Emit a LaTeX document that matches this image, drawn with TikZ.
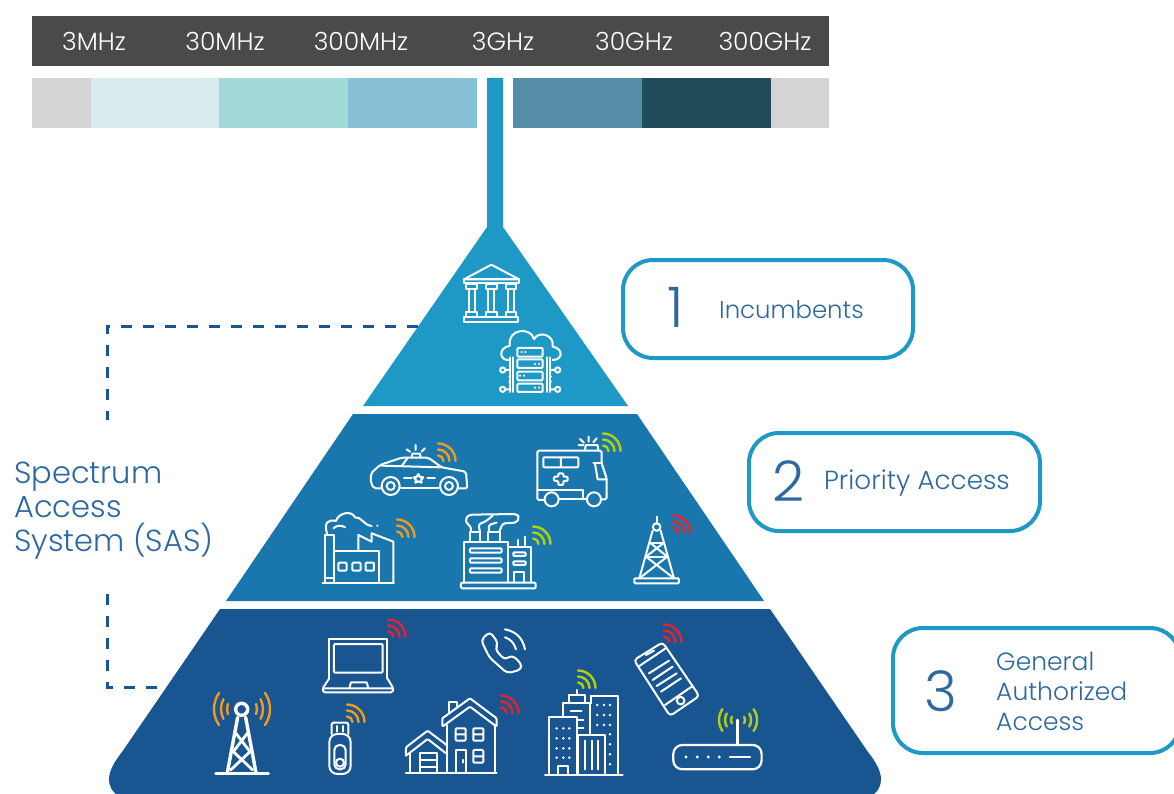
\documentclass[tikz,border=0pt]{standalone}
\usepackage{fontspec}
\setmainfont{Poppins Light}
\definecolor{tierA}{HTML}{1E98C4}
\definecolor{tierB}{HTML}{1A77AE}
\definecolor{tierC}{HTML}{185591}
\definecolor{hdr}{HTML}{4A4A4A}
\definecolor{txtb}{HTML}{2E689F}
\definecolor{orng}{HTML}{F09A1E}
\definecolor{lime}{HTML}{B5CF10}
\definecolor{redw}{HTML}{E6222A}
\tikzset{
  hlabel/.style={text=white,font=\fontsize{25}{25}\selectfont,anchor=center,inner sep=0},
  labelbox/.style={draw=tierA,line width=4pt,fill=white,rounded corners=30pt},
  lblnum/.style={text=txtb,font=\fontsize{56}{56}\selectfont,anchor=center,inner sep=0},
  lbltxt/.style={text=txtb,font=\fontsize{25}{30}\selectfont,anchor=west,inner sep=0,align=left},
  ic/.style={draw=white,line width=2pt,line join=round,line cap=round},
  zA/.style={shift={(350,220)},x=.3333pt,y=-.3333pt},
  zB/.style={shift={(300,420)},x=.3333pt,y=-.3333pt},
  zC/.style={shift={(190,610)},x=.3333pt,y=-.3333pt},
  zD/.style={shift={(470,610)},x=.3333pt,y=-.3333pt},
  wf/.style={line width=2.4pt,line cap=round},
  sasline/.style={draw=tierC,line width=3pt,dash pattern=on 11pt off 11pt}
}
\newcommand{\wifi}[3]{%
  \draw[wf,#3] (#1,#2) ++(5.5pt,0) arc[start angle=0,end angle=90,radius=5.5pt];
  \draw[wf,#3] (#1,#2) ++(11.5pt,0) arc[start angle=0,end angle=90,radius=11.5pt];
  \draw[wf,#3] (#1,#2) ++(17.5pt,0) arc[start angle=0,end angle=90,radius=17.5pt];
}
\newcommand{\sidewaves}[4]{%
  \foreach \r/\a in {#4}{
    \draw[wf,#3] (#1,#2) ++(-\a:\r pt) arc[start angle=-\a,end angle=\a,radius=\r pt];
    \draw[wf,#3] (#1,#2) ++(180-\a:\r pt) arc[start angle=180-\a,end angle=180+\a,radius=\r pt];
  }
}
\begin{document}
\begin{tikzpicture}[x=1pt,y=-1pt]
\useasboundingbox (0,0) rectangle (1174,794);
% header
\fill[hdr] (32,16) rectangle (829,66);
\foreach \n/\x/\t in {h1/94/3MHz,h2/225/30MHz,h3/361/300MHz,h4/503/3GHz,h5/634/30GHz,h6/765/300GHz}
  \node[hlabel] (\n) at (\x,41) {\t};
% band
\fill[black!17] (32,78) rectangle (91,128);
\fill[black!17] (771,78) rectangle (829,128);
\fill[fill={rgb,255:red,216;green,236;blue,240}] (91,78) rectangle (219,128);
\fill[fill={rgb,255:red,162;green,218;blue,215}] (219,78) rectangle (348,128);
\fill[fill={rgb,255:red,135;green,191;blue,214}] (348,78) rectangle (477,128);
\fill[fill={rgb,255:red,84;green,141;blue,165}] (513,78) rectangle (642,128);
\fill[fill={rgb,255:red,33;green,76;blue,90}] (642,78) rectangle (771,128);
% pyramid
\fill[tierA] (487,78) -- (503,78) -- (503,227) -- (628,406) -- (363,406) -- (487,227) -- cycle;
\fill[tierB] (353,414) -- (637,414) -- (764,601) -- (226,601) -- cycle;
\fill[tierC] (220,609) -- (122,752) .. controls (106,772) and (104,787) .. (120,797) -- (870,797) .. controls (886,787) and (884,772) .. (868,752) -- (770,609) -- cycle;
% SAS connector
\node[inner sep=0,text=txtb,font=\fontsize{30.5}{34}\selectfont,align=left,anchor=west] (sas) at (14,511) {Spectrum\\Access\\System (SAS)};
\coordinate (sasA) at (418,326);
\coordinate (sasB) at (107,326);
\coordinate (sasC) at (107,420);
\coordinate (sasD) at (107,594);
\coordinate (sasE) at (107,687);
\coordinate (sasF) at (157,687);
\draw[sasline] (sasA) -- (sasB) -- (sasC);
\draw[sasline] (sasD) -- (sasE) -- (sasF);
% label boxes
\draw[labelbox] (623,260) rectangle (913,358);
\node[lblnum] (n1) at (676,307) {1};
\node[lbltxt,font=\fontsize{24.4}{30}\selectfont] (t1) at (719,310) {Incumbents};
\draw[labelbox] (749,433) rectangle (1040,531);
\node[lblnum] (n2) at (789,481) {2};
\node[lbltxt,font=\fontsize{26.2}{30}\selectfont] (t2) at (824,483) {Priority Access};
\draw[labelbox] (893,628) -- (1180,628) -- (1180,753) -- (893,753) -- cycle;
\node[lblnum] (n3) at (941,691) {3};
\node[lbltxt] (t3) at (996,691) {General\\Authorized\\Access};
% temple
\begin{scope}[zA]
\draw[ic] (342,178) -- (424,134) -- (507,178) -- cycle;
\draw[ic] (342,178) rectangle (507,190);
\foreach \c in {365,424,483}{
  \draw[ic] (\c-16,193) rectangle (\c+16,208);
  \draw[ic] (\c-9,208) -- (\c-9,275) (\c+9,208) -- (\c+9,275);
  \draw[ic] (\c-16,275) rectangle (\c+16,291);
}
\draw[ic] (342,292) rectangle (505,305);
% cloud server
\draw[ic] (480,420) .. controls (450,425) and (440,385) .. (480,377) .. controls (470,325) and (545,320) .. (552,358) .. controls (565,330) and (615,345) .. (608,380) .. controls (640,385) and (640,420) .. (608,420);
\foreach \a/\b in {384/410,418/444,455/481,491/516}{
  \draw[ic,fill=tierA,rounded corners=1pt] (502,\a) rectangle (578,\b);
}
\foreach \p in {(515,396),(526,396),(555,432),(567,432),(510,467),(522,467),(555,503),(567,503)}
  \fill[white] \p circle (1.2pt);
\draw[ic] (490,412) -- (490,516) (481,516) -- (481,412);
\draw[ic] (590,412) -- (590,516) (599,516) -- (599,412);
\foreach \y in {450,508}{
  \draw[ic] (458,\y) circle (2.6pt) (466,\y) -- (481,\y);
  \draw[ic] (623,\y) circle (2.6pt) (615,\y) -- (599,\y);
}
\foreach \y in {470,485}{\fill[white] (478,\y) circle (1pt); \fill[white] (603,\y) circle (1pt);}
\end{scope}
\begin{scope}[zB]
% police car
\draw[ic,rounded corners=2pt] (242,205) -- (222,205) -- (213,190) -- (213,160) -- (240,135) -- (305,113) -- (385,113) -- (425,142) -- (498,155) -- (502,205) -- (476,205);
\draw[ic] (303,205) -- (416,205);
\draw[ic] (245,137) -- (422,142);
\draw[ic] (322,115) -- (305,138);
\draw[ic] (272,198) circle (9pt) (272,198) circle (4pt);
\draw[ic] (447,198) circle (9pt) (447,198) circle (4pt);
\draw[ic] (335,113) -- (337,101) -- (360,101) -- (362,113);
\draw[ic] (347,75) -- (347,90) (320,88) -- (330,95) (375,85) -- (365,95);
\draw[ic] (312,174) -- (335,174) (382,174) -- (405,174);
\draw[ic] (355,162) -- (360,171) -- (370,172) -- (363,180) -- (365,188) -- (355,184) -- (346,188) -- (348,180) -- (341,172) -- (350,171) -- cycle;
% ambulance
\draw[ic,rounded corners=1.5pt] (734,240) -- (712,240) -- (712,92) -- (905,92) -- (905,130) -- (920,175) -- (920,238) -- (905,238);
\draw[ic] (776,238) -- (860,238);
\draw[ic] (755,238) circle (7pt) (882,238) circle (7pt);
\draw[ic,rounded corners=1pt] (730,112) rectangle (835,142) (783,112) -- (783,142);
\draw[ic,rounded corners=1pt] (775,160) -- (790,160) -- (790,170) -- (803,170) -- (803,183) -- (790,183) -- (790,195) -- (775,195) -- (775,183) -- (762,183) -- (762,170) -- (775,170) -- cycle;
\draw[ic] (712,210) -- (850,210) -- (850,238);
\draw[ic] (880,130) -- (905,130);
\draw[ic] (885,130) -- (893,178) -- (920,178);
\draw[ic] (855,92) -- (857,75) -- (893,75) -- (895,92);
\draw[ic] (866,50) -- (866,65) (840,57) -- (852,68) (890,55) -- (880,67) (836,75) -- (850,75);
% factory
\draw[ic] (68,488) -- (282,488);
\draw[ic] (75,488) -- (75,345) -- (102,345) -- (102,488) (75,475) -- (102,475);
\draw[ic] (175,392) -- (175,345) -- (215,365) -- (215,340) -- (280,365) -- (280,488);
\draw[ic] (102,392) -- (238,392) -- (238,488);
\draw[ic,rounded corners=1pt] (115,428) rectangle (140,452) (157,428) rectangle (182,452) (197,428) rectangle (222,452);
\draw[ic] (82,345) .. controls (70,305) and (85,298) .. (108,303) .. controls (115,278) and (155,270) .. (165,292) .. controls (185,290) and (190,315) .. (215,318);
\draw[ic] (100,325) .. controls (110,315) and (125,315) .. (135,322);
\fill[white] (232,317) circle (1.2pt);
% plant
\draw[ic,rounded corners=1pt] (483,488) rectangle (707,505);
\draw[ic] (492,488) -- (492,365) -- (625,365) -- (625,488);
\draw[ic] (625,380) -- (692,380) -- (692,488);
\foreach \y in {385,415,445}{\draw[ic,rounded corners=1pt] (510,\y) rectangle (605,\y+13);}
\foreach \y in {397,424}{\draw[ic,rounded corners=1pt] (640,\y) rectangle (677,\y+11);}
\draw[ic] (643,488) -- (643,455) -- (672,455) -- (672,488);
\draw[ic] (655,380) -- (655,360) (675,380) -- (675,350);
\draw[ic] (510,365) -- (510,335) -- (540,335) -- (540,365);
\draw[ic] (565,365) -- (565,335) -- (600,335) -- (600,365);
\draw[ic,rounded corners=3pt] (513,335) -- (513,318) -- (498,310) -- (498,292) -- (510,284) -- (650,282) -- (658,292) -- (650,308) -- (608,310) -- (598,335);
\draw[ic,rounded corners=3pt] (540,335) -- (535,312) -- (555,306) -- (578,287) (568,335) -- (565,315) -- (590,308);
% tower
\draw[ic] (1070,290) -- (1070,312);
\draw[ic] (1070,321) circle (3.8pt);
\draw[ic] (1058,332) -- (1018,475) (1082,332) -- (1122,475);
\draw[ic] (1050,368) -- (1092,368) (1038,410) -- (1102,410);
\draw[ic] (1050,368) -- (1102,410) (1092,368) -- (1038,410);
\draw[ic] (1038,410) -- (1122,475) (1102,410) -- (1018,475);
\draw[ic,rounded corners=1pt] (1003,475) rectangle (1137,490);
\end{scope}
\begin{scope}[zC]
% laptop
\draw[ic] (418,205) -- (418,88) -- (592,88) -- (592,205);
\draw[ic,rounded corners=1pt] (432,102) rectangle (578,188);
\draw[ic,rounded corners=1.5pt] (418,205) -- (398,235) -- (400,247) -- (608,247) -- (610,235) -- (592,205);
\draw[ic] (400,235) -- (608,235) (478,235) -- (483,217) -- (530,217) -- (535,235);
% usb
\draw[ic,rounded corners=2pt] (425,372) -- (425,338) -- (475,338) -- (475,372);
\draw[ic,rounded corners=8pt] (418,372) -- (482,372) -- (482,492) -- (418,492) -- cycle;
\draw[ic] (441,348) -- (441,365) (459,348) -- (459,365);
\draw[ic,rounded corners=5pt] (433,405) rectangle (467,478);
\draw[ic] (450,458) circle (4pt);
% mast
\draw[ic,line width=3.4pt] (155,298) circle (6pt);
\draw[ic,line width=3.4pt] (143,322) -- (112,488) (167,322) -- (198,488);
\draw[ic,line width=2.8pt] (138,370) -- (180,425) -- (122,480) (172,370) -- (130,425) -- (188,480);
\draw[ic,line width=3.6pt] (78,490) -- (235,490);
% house
\draw[ic,rounded corners=1pt] (757,350) -- (757,325) -- (840,265) -- (920,325) -- (920,350) -- (840,290) -- cycle;
\draw[ic] (778,308) -- (778,277) -- (800,277) -- (800,288);
\draw[ic] (772,345) -- (772,488) (915,345) -- (915,488);
\foreach \x in {797,850}{\draw[ic,rounded corners=1pt] (\x,355) rectangle (\x+30,392) (\x,373) -- (\x+30,373);}
\draw[ic,rounded corners=1pt] (850,420) rectangle (880,458) (850,439) -- (880,439);
\draw[ic] (797,488) -- (797,420) -- (828,420) -- (828,488) (820,450) -- (820,458);
\draw[ic,rounded corners=1pt] (648,437) -- (648,412) -- (713,362) -- (770,405) (648,437) -- (713,387) -- (768,430);
\draw[ic] (660,430) -- (660,488);
\draw[ic] (690,488) -- (690,430) -- (742,430) -- (742,488) (690,450) -- (742,450) (690,470) -- (742,470);
\draw[ic] (648,488) -- (920,488);
\end{scope}
\begin{scope}[zD]
% handset
\draw[ic,rounded corners=4pt] (60,65) -- (33,90) -- (58,142) -- (112,190) -- (155,178) -- (152,158) -- (125,135) -- (105,150) -- (75,118) -- (85,100) -- cycle;
\draw[ic] (105,58) .. controls (140,65) and (158,85) .. (165,118);
\draw[ic] (105,82) .. controls (122,88) and (132,98) .. (138,118);
% tall buildings
\draw[ic] (237,492) -- (237,322) -- (320,322) -- (320,492);
\draw[ic] (280,322) -- (280,280) -- (360,280) -- (360,375);
\draw[ic] (297,280) -- (297,255) -- (345,255) -- (345,280);
\draw[ic] (320,255) -- (320,240);
\draw[ic] (362,258) -- (445,258) -- (445,492) (362,280) -- (362,258);
\draw[ic] (325,492) -- (325,376) -- (405,376) -- (405,492);
\draw[ic] (345,392) -- (345,478) (365,392) -- (365,478) (385,392) -- (385,478);
\draw[ic] (302,304) -- (335,304) (322,330) -- (340,330) (322,355) -- (340,355);
\draw[ic] (225,494) -- (458,494);
\draw[ic] (265,492) -- (265,468) -- (295,468) -- (295,492);
\foreach \x in {260,280,298}\foreach \y in {355,385,415,443}{\fill[white] (\x,\y) circle (1.4pt);}
\foreach \x in {382,402,420}\foreach \y in {285,315,345}{\fill[white] (\x,\y) circle (1.4pt);}
\foreach \y in {373,403,433,463}{\fill[white] (420,\y) circle (1.4pt);}
% smartphone
\draw[ic,rounded corners=3.5pt] (492,150) -- (578,97) -- (688,258) -- (600,318) -- cycle;
\draw[ic] (505,170) -- (590,113) (585,285) -- (668,228);
\draw[ic] (537,190) -- (597,152) (548,210) -- (608,170) (560,228) -- (620,190) (573,245) -- (633,205);
\draw[ic] (632,272) circle (3.8pt);
\draw[ic] (528,135) -- (552,122);
% router
\draw[ic,line width=2.2pt,rounded corners=9pt] (610,405) rectangle (875,478);
\foreach \x in {648,682,715,748}{\fill[white] (\x,441) circle (1.6pt);}
\draw[ic,line width=2.6pt] (780,441) -- (840,441);
\draw[ic,line width=2.6pt] (803,330) -- (803,405);
\end{scope}
% wifi marks
\wifi{438}{461}{orng}
\wifi{603}{451}{lime}
\wifi{397}{537}{orng}
\wifi{533}{544}{lime}
\wifi{673}{533}{redw}
\wifi{388}{637}{redw}
\wifi{347}{722}{orng}
\wifi{501}{713}{redw}
\wifi{578}{688}{lime}
\wifi{664}{642}{redw}
\sidewaves{242}{709}{orng}{15/20,21/28,28/35}
\sidewaves{738}{720}{lime}{7/28,13/30,19/35}
\end{tikzpicture}
\end{document}
